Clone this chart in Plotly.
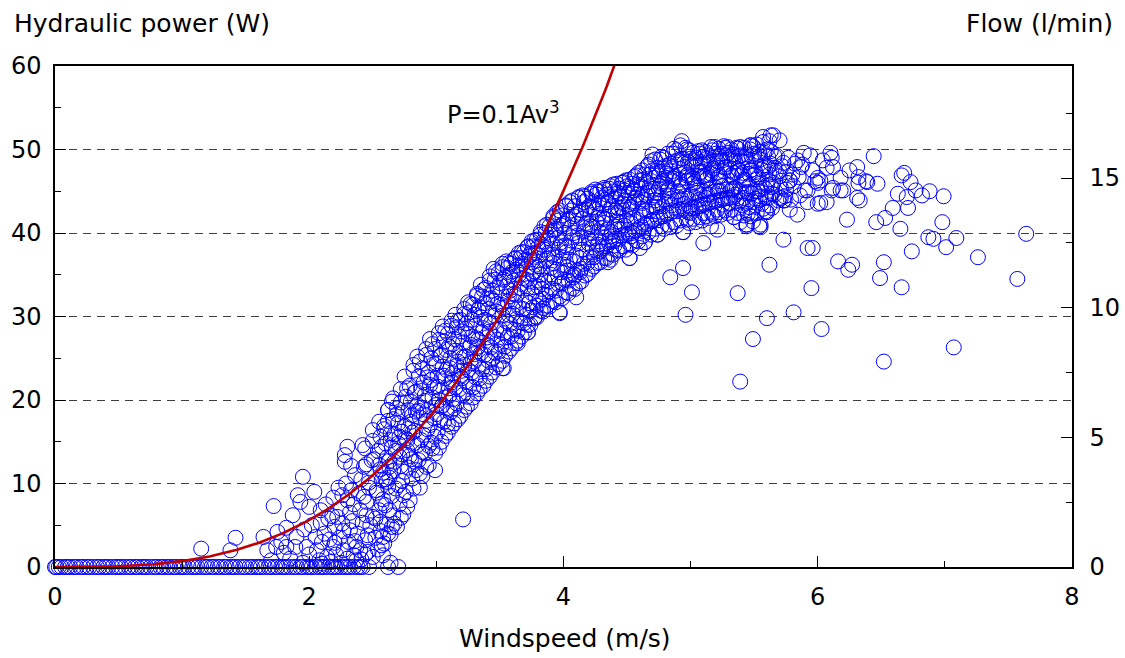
import numpy as np
import plotly.graph_objects as go

# ---------------- data ----------------
# windspeeds of the measurements that gave zero hydraulic power
zero_v = [0.0, 0.01, 0.03, 0.05, 0.08, 0.1, 0.12, 0.15, 0.17, 0.2, 0.22, 0.25, 0.27, 0.3, 0.33,
          0.35, 0.38, 0.4, 0.42, 0.45, 0.48, 0.5, 0.52, 0.55, 0.58, 0.6, 0.63, 0.65, 0.68, 0.7,
          0.72, 0.75, 0.78, 0.8, 0.83, 0.85, 0.88, 0.9, 0.93, 0.95, 0.98, 1.0, 1.02, 1.05, 1.08,
          1.1, 1.12, 1.15, 1.18, 1.2, 1.23, 1.25, 1.28, 1.3, 1.33, 1.35, 1.38, 1.4, 1.42, 1.45,
          1.48, 1.5, 1.53, 1.55, 1.58, 1.6, 1.62, 1.65, 1.68, 1.7, 1.73, 1.75, 1.78, 1.8, 1.82,
          1.85, 1.88, 1.9, 1.93, 1.95, 1.98, 2.0, 2.02, 2.05, 2.08, 2.1, 2.12, 2.15, 2.18, 2.2,
          2.22, 2.25, 2.28, 2.3, 2.32, 2.35, 2.38, 2.4, 2.42, 2.47, 2.62, 2.7]

# start-up region (windspeed, power)
low_pts = [(1.15, 2.2), (1.38, 2.0), (1.42, 3.5), (1.64, 3.6), (1.67, 2.0), (1.72, 7.3), (1.74, 2.4),
           (1.75, 4.2), (1.8, 1.7), (1.82, 4.7), (1.82, 2.4), (1.87, 6.2), (1.89, 2.4), (1.91, 8.6),
           (1.93, 7.8), (1.95, 10.8), (1.98, 2.4), (2.0, 7.2), (2.05, 3.6), (2.09, 6.8), (2.09, 5.3),
           (2.14, 1.2), (2.19, 8.3), (2.19, 2.4), (2.22, 6.0), (2.3, 8.0), (2.32, 6.5), (2.32, 4.4),
           (2.37, 2.4), (2.42, 5.3), (2.5, 6.0), (2.58, 3.6), (2.5, 1.2), (1.7, 0.8), (1.78, 3.0),
           (1.85, 1.0), (1.9, 3.6), (1.96, 4.5), (2.0, 1.5), (2.02, 5.0), (2.04, 9.0), (2.06, 2.0),
           (2.08, 0.8), (2.1, 3.0), (2.12, 4.0), (2.13, 7.5), (2.15, 5.8), (2.16, 3.3), (2.17, 0.6),
           (2.2, 4.8), (2.21, 1.5), (2.23, 9.5), (2.24, 3.5), (2.25, 7.0), (2.26, 5.2), (2.27, 2.0),
           (2.28, 12.6), (2.28, 13.4), (2.29, 10.0), (2.3, 14.4), (2.3, 1.0), (2.31, 3.0), (2.33, 9.2),
           (2.34, 5.5), (2.35, 7.5), (2.36, 11.0), (2.37, 0.8), (2.38, 4.0), (2.39, 8.8), (2.4, 6.8),
           (2.4, 2.0), (2.41, 10.5), (2.42, 14.6), (2.43, 12.0), (2.44, 3.2), (2.45, 7.8), (2.46, 1.8),
           (2.47, 9.5), (2.48, 5.0), (2.49, 12.8), (2.5, 16.4), (2.44, 1.5), (2.46, 3.8), (2.45, 6.2),
           (2.43, 8.4), (2.47, 10.1), (2.45, 12.3), (2.44, 14.2), (2.62, 18.8), (2.64, 0.5),
           (2.58, 1.4), (2.65, 4.8), (2.1, 0.4), (2.25, 0.5), (2.35, 1.4), (1.95, 0.5), (2.2, 2.9),
           (2.27, 4.3), (2.18, 6.1), (2.36, 3.1), (2.41, 0.9), (2.33, 12.1), (2.26, 8.6)]

# main cloud of measurements (windspeed, power)
band_pts = [
    (2.54, 2.1), (2.56, 4.3), (2.55, 6.8), (2.53, 8.9), (2.57, 10.4), (2.55, 12.2), (2.54, 13.9), (2.56, 15.6), (2.55, 17.4), (2.57, 7.6),
    (2.59, 2.8), (2.61, 5.1), (2.6, 7.4), (2.62, 9.6), (2.58, 11.3), (2.61, 13.1), (2.6, 14.8), (2.59, 16.5), (2.62, 18.8), (2.6, 10.5),
    (2.64, 3.9), (2.66, 6.2), (2.65, 8.5), (2.63, 10.7), (2.67, 12.6), (2.65, 14.3), (2.64, 16.0), (2.66, 17.7), (2.65, 19.8), (2.63, 12.0),
    (2.69, 4.8), (2.71, 7.5), (2.7, 9.8), (2.72, 12.1), (2.68, 13.9), (2.71, 15.6), (2.7, 17.2), (2.69, 19.0), (2.72, 21.3), (2.7, 14.8),
    (2.74, 6.3), (2.76, 9.0), (2.75, 11.4), (2.73, 13.5), (2.77, 15.2), (2.75, 16.9), (2.74, 18.5), (2.76, 20.4), (2.75, 22.8), (2.77, 14.0),
    (2.79, 8.0), (2.81, 10.6), (2.8, 12.9), (2.82, 14.8), (2.78, 16.6), (2.81, 18.2), (2.8, 19.8), (2.79, 21.7), (2.82, 24.2), (2.8, 17.4),
    (2.84, 11.6), (2.86, 12.8), (2.85, 14.6), (2.83, 16.3), (2.87, 17.9), (2.85, 19.4), (2.84, 21.0), (2.86, 22.8), (2.85, 25.2), (2.87, 9.5),
    (2.89, 10.9), (2.91, 13.6), (2.9, 15.8), (2.92, 17.5), (2.88, 19.1), (2.91, 20.6), (2.9, 22.1), (2.89, 23.8), (2.92, 26.1), (2.9, 18.3),
    (2.94, 12.2), (2.96, 14.9), (2.95, 17.0), (2.93, 18.8), (2.97, 20.3), (2.95, 21.8), (2.94, 23.3), (2.96, 25.0), (2.95, 27.3), (2.99, 11.6),
    (2.99, 13.6), (3.01, 16.2), (3.0, 18.3), (3.02, 20.0), (2.98, 21.5), (3.01, 22.9), (3.0, 24.4), (2.99, 26.1), (3.02, 28.0), (3.0, 19.4),
    (3.04, 15.0), (3.06, 17.4), (3.05, 19.4), (3.03, 21.1), (3.07, 22.6), (3.05, 24.0), (3.04, 25.4), (3.06, 27.0), (3.05, 28.8), (3.07, 20.3),
    (3.09, 16.1), (3.11, 18.5), (3.1, 20.5), (3.12, 22.1), (3.08, 23.6), (3.11, 25.0), (3.1, 26.4), (3.09, 27.9), (3.12, 29.5), (3.1, 21.4),
    (3.14, 17.2), (3.16, 19.6), (3.15, 21.5), (3.13, 23.2), (3.17, 24.6), (3.15, 25.9), (3.14, 27.3), (3.16, 28.7), (3.15, 30.2), (3.13, 22.4),
    (3.19, 18.1), (3.21, 20.6), (3.2, 22.6), (3.22, 24.2), (3.18, 25.6), (3.21, 26.9), (3.2, 28.2), (3.19, 29.6), (3.22, 30.9), (3.2, 23.5),
    (3.24, 19.2), (3.26, 21.6), (3.25, 23.6), (3.23, 25.2), (3.27, 26.6), (3.25, 27.9), (3.24, 29.2), (3.26, 30.5), (3.25, 31.7), (3.27, 24.4),
    (3.29, 20.3), (3.31, 22.7), (3.3, 24.6), (3.32, 26.2), (3.28, 27.6), (3.31, 28.9), (3.3, 30.2), (3.29, 31.4), (3.32, 32.7), (3.3, 25.5),
    (3.34, 21.3), (3.36, 23.7), (3.35, 25.6), (3.33, 27.2), (3.37, 28.6), (3.35, 29.9), (3.34, 31.1), (3.36, 32.4), (3.35, 33.8), (3.33, 26.4),
    (3.39, 22.3), (3.41, 24.7), (3.4, 26.6), (3.42, 28.2), (3.38, 29.6), (3.41, 30.9), (3.4, 32.1), (3.39, 33.4), (3.42, 34.8), (3.4, 27.5),
    (3.44, 23.3), (3.46, 25.7), (3.45, 27.6), (3.43, 29.2), (3.47, 30.6), (3.45, 31.9), (3.44, 33.1), (3.46, 34.4), (3.45, 35.7), (3.47, 28.4),
    (3.49, 24.3), (3.51, 26.6), (3.5, 28.5), (3.52, 30.1), (3.48, 31.5), (3.51, 32.8), (3.5, 34.0), (3.49, 35.2), (3.52, 36.3), (3.53, 23.8),
    (3.54, 25.3), (3.56, 27.5), (3.55, 29.4), (3.53, 31.0), (3.57, 32.4), (3.55, 33.6), (3.54, 34.7), (3.56, 35.8), (3.55, 36.6), (3.57, 30.2),
    (3.59, 26.2), (3.61, 28.4), (3.6, 30.3), (3.62, 31.8), (3.58, 33.1), (3.61, 34.3), (3.6, 35.4), (3.59, 36.3), (3.62, 36.9), (3.6, 31.0),
    (3.64, 27.1), (3.66, 29.3), (3.65, 31.1), (3.63, 32.6), (3.67, 33.9), (3.65, 35.0), (3.64, 36.1), (3.66, 37.0), (3.65, 37.6), (3.64, 26.8),
    (3.69, 28.1), (3.71, 30.2), (3.7, 31.9), (3.72, 33.4), (3.68, 34.6), (3.71, 35.7), (3.7, 36.8), (3.69, 37.7), (3.72, 38.3), (3.72, 28.1),
    (3.74, 29.0), (3.76, 31.1), (3.75, 32.8), (3.73, 34.2), (3.77, 35.4), (3.75, 36.5), (3.74, 37.5), (3.76, 38.4), (3.75, 39.0), (3.77, 33.5),
    (3.79, 29.9), (3.81, 31.9), (3.8, 33.6), (3.82, 35.0), (3.78, 36.2), (3.81, 37.3), (3.8, 38.3), (3.79, 39.2), (3.82, 39.8), (3.8, 34.3),
    (3.84, 30.6), (3.86, 32.6), (3.85, 34.3), (3.83, 35.7), (3.87, 36.9), (3.85, 38.0), (3.84, 39.0), (3.86, 40.0), (3.85, 40.8), (3.84, 31.0),
    (3.89, 31.2), (3.91, 33.3), (3.9, 35.0), (3.92, 36.4), (3.88, 37.6), (3.91, 38.7), (3.9, 39.8), (3.89, 40.8), (3.92, 41.8), (3.9, 35.8),
    (3.94, 31.7), (3.96, 33.9), (3.95, 35.6), (3.93, 37.1), (3.97, 38.3), (3.95, 39.4), (3.94, 40.5), (3.96, 41.5), (3.95, 42.5), (3.97, 30.5),
    (3.99, 32.2), (4.01, 34.4), (4.0, 36.2), (4.02, 37.7), (3.98, 38.9), (4.01, 40.0), (4.0, 41.1), (3.99, 42.1), (4.02, 43.3), (4.0, 37.0),
    (4.04, 32.8), (4.06, 35.0), (4.05, 36.8), (4.03, 38.3), (4.07, 39.5), (4.05, 40.6), (4.04, 41.7), (4.06, 42.7), (4.05, 43.7), (4.03, 35.5),
    (4.09, 33.3), (4.11, 35.5), (4.1, 37.3), (4.12, 38.8), (4.08, 40.0), (4.11, 41.1), (4.1, 42.2), (4.09, 43.2), (4.12, 44.2), (4.08, 34.7),
    (4.14, 34.2), (4.16, 36.3), (4.15, 38.0), (4.13, 39.4), (4.17, 40.6), (4.15, 41.7), (4.14, 42.7), (4.16, 43.7), (4.15, 44.5), (4.13, 35.3),
    (4.19, 35.1), (4.21, 37.1), (4.2, 38.7), (4.22, 40.0), (4.18, 41.2), (4.21, 42.2), (4.2, 43.2), (4.19, 44.1), (4.22, 44.9), (4.2, 39.3),
    (4.24, 36.0), (4.26, 37.9), (4.25, 39.4), (4.23, 40.7), (4.27, 41.8), (4.25, 42.8), (4.24, 43.7), (4.26, 44.6), (4.25, 45.2), (4.27, 38.6),
    (4.29, 36.5), (4.31, 38.4), (4.3, 39.9), (4.32, 41.2), (4.28, 42.3), (4.31, 43.3), (4.3, 44.2), (4.29, 45.0), (4.32, 45.4), (4.3, 40.6),
    (4.34, 37.0), (4.36, 38.9), (4.35, 40.4), (4.33, 41.7), (4.37, 42.8), (4.35, 43.7), (4.34, 44.6), (4.36, 45.3), (4.35, 36.5), (4.37, 39.6),
    (4.39, 37.4), (4.41, 39.3), (4.4, 40.8), (4.42, 42.1), (4.38, 43.2), (4.41, 44.1), (4.4, 45.0), (4.39, 45.8), (4.42, 41.4), (4.4, 38.5),
    (4.44, 37.9), (4.46, 39.7), (4.45, 41.2), (4.43, 42.5), (4.47, 43.5), (4.45, 44.4), (4.44, 45.3), (4.46, 46.0), (4.45, 40.4), (4.43, 43.0),
    (4.49, 38.0), (4.51, 39.9), (4.5, 41.5), (4.52, 42.8), (4.48, 43.9), (4.51, 44.8), (4.5, 45.6), (4.49, 46.3), (4.52, 37.0), (4.5, 42.1),
    (4.54, 38.5), (4.56, 40.3), (4.55, 41.8), (4.53, 43.1), (4.57, 44.2), (4.55, 45.1), (4.54, 45.9), (4.56, 46.7), (4.55, 43.6), (4.53, 39.6),
    (4.59, 39.0), (4.61, 40.8), (4.6, 42.3), (4.62, 43.6), (4.58, 44.6), (4.61, 45.5), (4.6, 46.3), (4.59, 47.2), (4.62, 42.9), (4.6, 38.2),
    (4.64, 38.9), (4.66, 41.1), (4.65, 42.7), (4.63, 44.0), (4.67, 45.1), (4.65, 46.1), (4.64, 47.0), (4.66, 48.0), (4.65, 44.5), (4.63, 40.2),
    (4.69, 39.8), (4.71, 41.6), (4.7, 43.2), (4.72, 44.5), (4.68, 45.6), (4.71, 46.6), (4.7, 47.5), (4.69, 48.6), (4.72, 43.9), (4.7, 49.4),
    (4.74, 39.8), (4.76, 41.9), (4.75, 43.5), (4.73, 44.8), (4.77, 45.9), (4.75, 46.9), (4.74, 47.8), (4.76, 48.8), (4.75, 45.3), (4.73, 42.6),
    (4.79, 40.5), (4.81, 42.3), (4.8, 43.8), (4.82, 45.1), (4.78, 46.2), (4.81, 47.1), (4.8, 48.0), (4.79, 49.0), (4.82, 44.4), (4.8, 46.6),
    (4.84, 40.7), (4.86, 42.6), (4.85, 44.1), (4.83, 45.4), (4.87, 46.5), (4.85, 47.4), (4.84, 48.3), (4.86, 49.5), (4.85, 43.3), (4.83, 46.9),
    (4.89, 40.9), (4.91, 42.8), (4.9, 44.3), (4.92, 45.6), (4.88, 46.7), (4.91, 47.7), (4.9, 48.7), (4.89, 49.9), (4.93, 51.0), (4.9, 45.0),
    (4.94, 40.1), (4.96, 42.7), (4.95, 44.4), (4.93, 45.8), (4.97, 46.9), (4.95, 47.9), (4.94, 48.9), (4.96, 50.2), (4.95, 43.5), (4.97, 46.2),
    (4.99, 41.2), (5.01, 43.0), (5.0, 44.6), (5.02, 45.9), (4.98, 47.0), (5.01, 48.0), (5.0, 48.9), (4.99, 49.9), (5.02, 46.5), (5.0, 42.4),
    (5.04, 41.3), (5.06, 43.2), (5.05, 44.8), (5.03, 46.1), (5.07, 47.2), (5.05, 48.1), (5.04, 49.0), (5.06, 49.8), (5.05, 45.4), (5.07, 44.0),
    (5.09, 41.5), (5.11, 43.4), (5.1, 45.0), (5.12, 46.3), (5.08, 47.3), (5.11, 48.3), (5.1, 49.1), (5.09, 49.9), (5.12, 44.2), (5.1, 46.8),
    (5.14, 41.8), (5.16, 43.7), (5.15, 45.2), (5.13, 46.5), (5.17, 47.5), (5.15, 48.4), (5.14, 49.3), (5.16, 50.3), (5.15, 44.6), (5.13, 47.0),
    (5.19, 42.0), (5.21, 43.9), (5.2, 45.4), (5.22, 46.7), (5.18, 47.7), (5.21, 48.6), (5.2, 49.5), (5.19, 50.3), (5.22, 45.0), (5.2, 48.1),
    (5.24, 42.2), (5.26, 44.1), (5.25, 45.6), (5.23, 46.8), (5.27, 47.8), (5.25, 48.7), (5.24, 49.5), (5.26, 50.4), (5.25, 43.4), (5.23, 46.2),
    (5.29, 42.4), (5.31, 44.2), (5.3, 45.7), (5.32, 46.9), (5.28, 47.9), (5.31, 48.8), (5.3, 49.6), (5.29, 50.3), (5.32, 45.1), (5.3, 43.6),
    (5.34, 41.9), (5.36, 43.8), (5.35, 45.4), (5.33, 46.7), (5.37, 47.7), (5.35, 48.6), (5.34, 49.4), (5.36, 50.2), (5.35, 44.6), (5.34, 47.2),
    (5.39, 41.3), (5.41, 43.3), (5.4, 45.0), (5.42, 46.4), (5.38, 47.5), (5.41, 48.5), (5.4, 49.3), (5.39, 50.3), (5.42, 44.2), (5.4, 46.9),
    (5.44, 41.0), (5.46, 43.1), (5.45, 44.9), (5.43, 46.3), (5.47, 47.5), (5.45, 48.5), (5.44, 49.4), (5.47, 50.5), (5.45, 42.3), (5.46, 45.6),
    (5.49, 41.4), (5.51, 43.3), (5.5, 45.0), (5.52, 46.4), (5.48, 47.6), (5.51, 48.6), (5.5, 49.5), (5.49, 50.4), (5.51, 44.1), (5.5, 47.0),
    (5.54, 40.8), (5.56, 43.5), (5.55, 45.3), (5.53, 46.7), (5.57, 47.8), (5.55, 48.8), (5.54, 49.7), (5.57, 51.5), (5.55, 44.4), (5.56, 46.0),
    (5.59, 42.6), (5.61, 44.2), (5.6, 45.7), (5.62, 47.0), (5.58, 48.1), (5.61, 49.1), (5.6, 50.0), (5.63, 51.7), (5.6, 42.5), (5.61, 46.4),
    (5.64, 43.0), (5.66, 44.6), (5.65, 46.0), (5.67, 47.3), (5.63, 48.3), (5.66, 49.2), (5.65, 51.7), (5.64, 45.5), (5.66, 47.8),
    (5.69, 43.9), (5.71, 45.4), (5.7, 46.8), (5.72, 48.0), (5.7, 51.1), (5.68, 49.2), (5.71, 44.2), (5.7, 47.4),
    (5.74, 44.4), (5.76, 46.0), (5.75, 47.3), (5.73, 48.4), (5.77, 49.0), (5.75, 45.2), (5.74, 43.9),
    (5.79, 44.0), (5.81, 45.6), (5.8, 47.0), (5.78, 46.3), (5.82, 48.3), (5.84, 48.7), (5.84, 42.2), (5.78, 42.8),
    (5.86, 44.5), (5.85, 46.7), (5.87, 47.9), (5.89, 49.6), (5.9, 45.1), (5.92, 43.7), (5.94, 49.3),
]

# second, irregular layer of the same cloud (windspeed, power)
band_pts2 = [
    (2.52, 3.5), (2.53, 9.2), (2.51, 12.9), (2.52, 5.8), (2.5, 15.1),
    (2.57, 2.6), (2.58, 8.1), (2.56, 11.7), (2.57, 14.4), (2.59, 16.9), (2.56, 5.4),
    (2.62, 4.0), (2.63, 6.8), (2.61, 10.2), (2.63, 12.7), (2.62, 17.5), (2.64, 15.2),
    (2.67, 5.2), (2.68, 9.4), (2.66, 11.5), (2.67, 15.9), (2.69, 18.3), (2.66, 20.2),
    (2.72, 5.9), (2.73, 10.3), (2.71, 13.2), (2.73, 16.2), (2.72, 19.7), (2.74, 8.6),
    (2.77, 7.2), (2.78, 11.9), (2.76, 15.4), (2.78, 18.8), (2.77, 21.4), (2.79, 13.3),
    (2.82, 9.4), (2.83, 12.6), (2.81, 16.1), (2.83, 20.9), (2.82, 23.5), (2.84, 18.6),
    (2.87, 11.2), (2.88, 15.2), (2.86, 18.7), (2.88, 21.4), (2.87, 24.6), (2.89, 13.8),
    (2.92, 12.0), (2.93, 16.5), (2.91, 19.9), (2.93, 22.7), (2.92, 25.4), (2.94, 14.5),
    (2.97, 14.2), (2.98, 17.8), (2.96, 22.4), (2.98, 24.3), (2.97, 26.7), (2.99, 15.6),
    (3.02, 14.3), (3.03, 17.6), (3.01, 21.6), (3.03, 25.3), (3.02, 27.2), (3.04, 19.2),
    (3.07, 15.7), (3.08, 19.0), (3.06, 22.9), (3.08, 26.0), (3.07, 28.3), (3.09, 17.1),
    (3.12, 16.8), (3.13, 20.1), (3.11, 23.8), (3.13, 26.7), (3.12, 28.9), (3.14, 19.0),
    (3.17, 17.7), (3.18, 21.3), (3.16, 24.1), (3.18, 27.6), (3.17, 29.5), (3.19, 22.8),
    (3.22, 18.8), (3.23, 22.2), (3.21, 25.1), (3.23, 28.5), (3.22, 30.3), (3.24, 20.4),
    (3.27, 19.6), (3.28, 23.3), (3.26, 26.3), (3.28, 29.6), (3.27, 31.5), (3.29, 21.5),
    (3.32, 20.8), (3.33, 24.1), (3.31, 27.4), (3.33, 30.8), (3.32, 32.5), (3.34, 22.6),
    (3.37, 21.7), (3.38, 25.4), (3.36, 28.1), (3.38, 31.6), (3.37, 33.2), (3.39, 23.7),
    (3.42, 22.8), (3.43, 26.3), (3.41, 29.4), (3.43, 32.2), (3.42, 34.3), (3.44, 24.9),
    (3.47, 23.9), (3.48, 27.2), (3.46, 30.1), (3.48, 33.5), (3.47, 35.4), (3.49, 25.8),
    (3.52, 24.7), (3.53, 28.0), (3.51, 31.4), (3.53, 34.4), (3.52, 35.9), (3.54, 26.4),
    (3.57, 25.8), (3.58, 29.1), (3.56, 31.8), (3.58, 35.0), (3.57, 36.4), (3.59, 27.6),
    (3.62, 26.8), (3.63, 29.7), (3.61, 32.7), (3.63, 35.6), (3.62, 37.0), (3.64, 28.3),
    (3.67, 27.6), (3.68, 30.9), (3.66, 33.4), (3.68, 36.3), (3.67, 37.7), (3.69, 29.2),
    (3.72, 29.0), (3.73, 31.6), (3.71, 34.4), (3.73, 37.2), (3.72, 38.4), (3.74, 30.7),
    (3.77, 29.8), (3.78, 32.4), (3.76, 35.1), (3.78, 37.6), (3.77, 39.1), (3.79, 31.3),
    (3.82, 30.7), (3.83, 33.3), (3.81, 36.0), (3.83, 38.6), (3.82, 40.1), (3.84, 32.1),
    (3.87, 31.3), (3.88, 34.2), (3.86, 36.7), (3.88, 39.4), (3.87, 41.0), (3.89, 33.0),
    (3.92, 31.8), (3.93, 34.6), (3.91, 37.4), (3.93, 40.3), (3.92, 42.0), (3.94, 33.1),
    (3.97, 32.4), (3.98, 35.3), (3.96, 38.0), (3.98, 40.9), (3.97, 42.7), (3.99, 34.0),
    (4.02, 32.9), (4.03, 35.9), (4.01, 38.5), (4.03, 41.5), (4.02, 43.2), (4.04, 34.3),
    (4.07, 33.4), (4.08, 36.6), (4.06, 39.1), (4.08, 42.0), (4.07, 43.9), (4.09, 35.0),
    (4.12, 34.0), (4.13, 37.0), (4.11, 39.7), (4.13, 42.4), (4.12, 44.3), (4.14, 35.7),
    (4.17, 34.9), (4.18, 37.7), (4.16, 40.2), (4.18, 42.8), (4.17, 44.4), (4.19, 36.4),
    (4.22, 35.7), (4.23, 38.3), (4.21, 40.8), (4.23, 43.1), (4.22, 44.7), (4.24, 37.1),
    (4.27, 36.4), (4.28, 39.0), (4.26, 41.3), (4.28, 43.6), (4.27, 45.0), (4.29, 37.8),
    (4.32, 37.0), (4.33, 39.5), (4.31, 41.8), (4.33, 44.0), (4.32, 45.2), (4.34, 38.4),
    (4.37, 37.5), (4.38, 40.1), (4.36, 42.3), (4.38, 44.4), (4.37, 45.6), (4.39, 39.0),
    (4.42, 38.0), (4.43, 40.5), (4.41, 42.7), (4.43, 44.8), (4.42, 45.9), (4.44, 39.3),
    (4.47, 38.4), (4.48, 40.9), (4.46, 43.0), (4.48, 45.1), (4.47, 46.1), (4.49, 39.8),
    (4.52, 38.7), (4.53, 41.2), (4.51, 43.4), (4.53, 45.4), (4.52, 46.4), (4.54, 40.0),
    (4.57, 39.1), (4.58, 41.6), (4.56, 43.8), (4.58, 45.8), (4.57, 46.9), (4.59, 40.4),
    (4.62, 39.6), (4.63, 42.1), (4.61, 44.3), (4.63, 46.4), (4.62, 47.5), (4.64, 41.0),
    (4.67, 40.1), (4.68, 42.6), (4.66, 44.8), (4.68, 47.0), (4.67, 48.2), (4.69, 41.4),
    (4.72, 40.5), (4.73, 43.1), (4.71, 45.3), (4.73, 47.4), (4.72, 48.8), (4.74, 41.8),
    (4.77, 40.8), (4.78, 43.2), (4.76, 45.6), (4.78, 47.7), (4.77, 49.1), (4.79, 42.0),
    (4.82, 41.0), (4.83, 43.6), (4.81, 45.8), (4.83, 48.1), (4.82, 49.5), (4.84, 42.4),
    (4.87, 41.3), (4.88, 43.9), (4.86, 46.2), (4.88, 48.6), (4.87, 50.1), (4.89, 42.6),
    (4.92, 41.5), (4.93, 44.0), (4.91, 46.4), (4.93, 48.9), (4.92, 50.5), (4.94, 42.9),
    (4.97, 41.6), (4.98, 44.1), (4.96, 46.6), (4.98, 48.5), (4.97, 50.0), (4.99, 43.2),
    (5.02, 41.7), (5.03, 44.3), (5.01, 46.7), (5.03, 48.6), (5.02, 49.6), (5.04, 43.0),
    (5.07, 41.9), (5.08, 44.5), (5.06, 46.8), (5.08, 48.5), (5.07, 49.5), (5.09, 43.4),
    (5.12, 42.0), (5.13, 44.6), (5.11, 46.9), (5.13, 48.9), (5.12, 49.7), (5.14, 43.6),
    (5.17, 42.3), (5.18, 44.9), (5.16, 47.1), (5.18, 49.0), (5.17, 49.9), (5.19, 43.8),
    (5.22, 42.5), (5.23, 45.1), (5.21, 47.3), (5.23, 49.2), (5.22, 50.1), (5.24, 44.0),
    (5.27, 42.7), (5.28, 45.2), (5.26, 47.4), (5.28, 49.3), (5.27, 50.2), (5.29, 44.2),
    (5.32, 42.8), (5.33, 45.3), (5.31, 47.5), (5.33, 49.4), (5.32, 50.0), (5.34, 44.3),
    (5.37, 42.4), (5.38, 45.0), (5.36, 47.3), (5.38, 49.2), (5.37, 50.1), (5.39, 43.9),
    (5.42, 42.1), (5.43, 44.8), (5.41, 47.2), (5.43, 49.1), (5.42, 50.2), (5.44, 43.6),
    (5.47, 42.0), (5.48, 44.7), (5.46, 47.1), (5.48, 49.2), (5.47, 50.0), (5.49, 43.7),
    (5.52, 42.4), (5.53, 45.0), (5.51, 47.3), (5.53, 49.4), (5.52, 50.6), (5.54, 43.9),
    (5.57, 42.9), (5.58, 45.4), (5.56, 47.6), (5.58, 49.6), (5.57, 50.9), (5.59, 44.3),
    (5.62, 43.3), (5.63, 45.8), (5.61, 47.9), (5.63, 49.8), (5.62, 51.0), (5.64, 44.7),
]

# sparse upper-right part of the cloud
right_pts = [(5.47, 50.5), (5.96, 47.5), (5.98, 46.2), (6.0, 46.0), (6.0, 46.6), (6.02, 46.3), (6.02, 43.6),
             (6.04, 48.7), (6.07, 47.8), (6.07, 43.7), (6.1, 49.6), (6.11, 49.0), (6.11, 45.1), (6.12, 47.9),
             (6.12, 45.4), (6.18, 46.6), (6.18, 45.1), (6.2, 45.1), (6.23, 41.6), (6.25, 47.5), (6.31, 47.9),
             (6.32, 46.7), (6.32, 46.0), (6.38, 46.2), (6.31, 44.2), (6.33, 43.9), (6.39, 46.1), (6.44, 49.2),
             (6.47, 45.9), (5.78, 46.3), (5.92, 45.1), (5.73, 43.9), (5.7, 44.2), (5.6, 42.5), (5.55, 41.0),
             (5.34, 41.9), (5.21, 42.8), (5.1, 42.4), (4.98, 42.5), (6.0, 43.5), (5.88, 48.2)]

# scattered low readings
outlier_pts = [(3.21, 5.7), (4.84, 34.7), (4.94, 35.8), (5.01, 32.9), (4.96, 30.2), (5.37, 32.8), (5.39, 22.2),
               (5.49, 27.3), (5.6, 29.8), (5.62, 36.2), (5.73, 39.2), (5.81, 30.5), (5.92, 38.2), (5.96, 38.2),
               (5.95, 33.4), (6.03, 28.5), (6.16, 36.6), (6.24, 35.6), (6.27, 36.2), (6.46, 41.3), (6.53, 41.8),
               (6.59, 43.0), (6.65, 40.5), (6.52, 36.5), (6.49, 34.6), (6.52, 24.6), (6.66, 33.5), (6.66, 46.9),
               (6.68, 47.2), (6.73, 46.1), (6.63, 44.7), (6.7, 44.3), (6.71, 43.0), (6.77, 45.1), (6.82, 44.5),
               (6.88, 45.0), (6.99, 44.4), (6.98, 41.3), (6.74, 37.8), (6.87, 39.5), (6.91, 39.3), (7.01, 38.3),
               (7.09, 39.4), (7.07, 26.3), (7.26, 37.1), (7.57, 34.5), (7.64, 39.9), (5.1, 38.8), (5.21, 40.4),
               (5.44, 41.0), (5.55, 40.7), (4.64, 38.9), (4.52, 37.0), (4.37, 36.8), (4.1, 32.3), (3.97, 30.4),
               (3.72, 28.1), (3.78, 30.0), (3.52, 23.8), (4.94, 40.1), (4.74, 39.8), (5.16, 40.8), (5.44, 40.8)]

# theoretical curve P = 0.1 * A * v^3
A_rotor = 7.04
curve_label = "P=0.1Av<sup>3</sup>"

x_ticks = [0, 2, 4, 6, 8]
y_ticks = [0, 10, 20, 30, 40, 50, 60]
flow_ticks = [0, 5, 10, 15]
flow_max = 19.32          # flow (l/min) at the top of the power axis (60 W)

# ---------------- figure ----------------
pts = [(v, 0.0) for v in zero_v] + low_pts + band_pts + band_pts2 + right_pts + outlier_pts
xs = [p[0] for p in pts]
ys = [p[1] for p in pts]

curve_v = np.linspace(0, 4.6, 300)
curve_p = 0.1 * A_rotor * curve_v ** 3

FONT = "DejaVu Sans, Liberation Sans, Arial, sans-serif"
BLUE = "#0000ff"

fig = go.Figure()
fig.add_trace(go.Scatter(
    x=xs, y=ys, mode="markers", cliponaxis=False,
    marker=dict(symbol="circle-open", size=15, color=BLUE, line=dict(width=1, color=BLUE)),
    showlegend=False, hoverinfo="x+y"))
fig.add_trace(go.Scatter(
    x=curve_v, y=curve_p, mode="lines",
    line=dict(color="#c00000", width=2.6), showlegend=False))
# invisible trace on the flow axis so it is drawn
fig.add_trace(go.Scatter(x=[0], y=[0], yaxis="y2", mode="markers",
                         marker=dict(size=1, color="rgba(0,0,0,0)"),
                         showlegend=False, hoverinfo="skip"))

fig.update_layout(
    width=1125, height=658,
    margin=dict(l=55, r=53, t=66, b=91, autoexpand=False),
    paper_bgcolor="white", plot_bgcolor="white",
    font=dict(family=FONT, size=24, color="black"),
    xaxis=dict(range=[0, 8], tickvals=x_ticks, ticks="inside", ticklen=11, tickwidth=1,
               tickcolor="black", showline=True, linecolor="black", linewidth=1.5, mirror=True,
               showgrid=False, zeroline=False, ticklabelstandoff=7, automargin=False,
               minor=dict(dtick=1, tick0=0, ticks="inside", ticklen=6, tickcolor="black", showgrid=False)),
    yaxis=dict(range=[0, 60], tickvals=y_ticks, ticks="inside", ticklen=11, tickwidth=1,
               tickcolor="black", showline=True, linecolor="black", linewidth=1.5,
               showgrid=True, gridcolor="#404040", gridwidth=1.2, griddash="8px,6px",
               zeroline=False, ticklabelstandoff=7, automargin=False,
               minor=dict(dtick=5, tick0=0, ticks="inside", ticklen=6, tickcolor="black", showgrid=False)),
    yaxis2=dict(range=[0, flow_max], tickvals=flow_ticks, overlaying="y", side="right",
                ticks="inside", ticklen=11, tickwidth=1, tickcolor="black",
                showline=True, linecolor="black", linewidth=1.5, showgrid=False, zeroline=False,
                ticklabelstandoff=11, automargin=False,
                minor=dict(dtick=2.5, tick0=0, ticks="inside", ticklen=6, tickcolor="black", showgrid=False)),
    annotations=[
        dict(text="Hydraulic power (W)", xref="paper", yref="paper", x=-0.0423, y=1.084,
             xanchor="left", yanchor="middle", showarrow=False, font=dict(size=25)),
        dict(text="Flow (l/min)", xref="paper", yref="paper", x=1.0423, y=1.084,
             xanchor="right", yanchor="middle", showarrow=False, font=dict(size=25)),
        dict(text="Windspeed (m/s)", xref="paper", yref="paper", x=0.5015, y=-0.142,
             xanchor="center", yanchor="middle", showarrow=False, font=dict(size=25)),
        dict(text=curve_label, xref="x", yref="y", x=3.07, y=54.4,
             xanchor="left", yanchor="middle", showarrow=False, font=dict(size=24)),
    ],
)

fig.write_html("out.html")
